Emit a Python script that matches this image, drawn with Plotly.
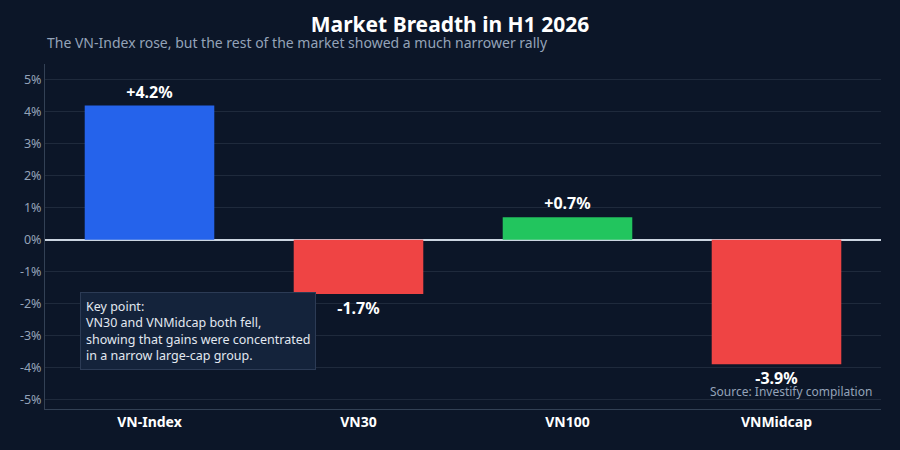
import plotly.graph_objects as go

categories = ["VN-Index", "VN30", "VN100", "VNMidcap"]
changes = [4.2, -1.7, 0.7, -3.9]
bar_colors = ["#2563eb", "#ef4444", "#22c55e", "#ef4444"]
labels = ["+4.2%", "-1.7%", "+0.7%", "-3.9%"]
tick_vals = [-5, -4, -3, -2, -1, 0, 1, 2, 3, 4, 5]
tick_text = ["-5%", "-4%", "-3%", "-2%", "-1%", "0%", "1%", "2%", "3%", "4%", "5%"]

BG = "#0c1628"
FONT = "Noto Sans"

fig = go.Figure()
fig.add_trace(go.Bar(
    x=categories, y=changes,
    marker=dict(color=bar_colors, line=dict(width=0)),
    text=labels, textposition="outside",
    textfont=dict(family=FONT, size=16, color="#ffffff", weight="bold"),
    cliponaxis=False,
    width=0.62,
))

fig.update_layout(
    width=900, height=450,
    paper_bgcolor=BG, plot_bgcolor=BG,
    margin=dict(l=45, r=19, t=64, b=41),
    showlegend=False,
    font=dict(family=FONT, color="#94a3b8"),
    title=dict(
        text="<b>Market Breadth in H1 2026</b>",
        x=0.5, xanchor="center", y=1 - 25 / 450, yanchor="middle",
        font=dict(family=FONT, size=21, color="#ffffff"),
    ),
    xaxis=dict(
        tickfont=dict(family=FONT, size=14, color="#ffffff", weight="bold"),
        showgrid=False, showline=True, linecolor="#334155", linewidth=1,
        ticks="", zeroline=False,
    ),
    yaxis=dict(
        range=[-5.3, 5.5],
        tickvals=tick_vals, ticktext=tick_text,
        tickfont=dict(family=FONT, size=12.5, color="#94a3b8"),
        showgrid=True, gridcolor="#1f2a3c", gridwidth=1,
        zeroline=True, zerolinecolor="#cbd5e1", zerolinewidth=1.5,
        showline=True, linecolor="#334155", linewidth=1,
        ticks="",
    ),
    annotations=[
        dict(
            text="The VN-Index rose, but the rest of the market showed a much narrower rally",
            xref="paper", yref="paper", x=0, y=1.0, xanchor="left", yanchor="middle",
            yshift=22, showarrow=False,
            font=dict(family=FONT, size=14, color="#94a3b8"),
        ),
        dict(
            text="Key point:<br>VN30 and VNMidcap both fell,<br>showing that gains were concentrated<br>in a narrow large-cap group.",
            xref="paper", yref="y", x=0.042, y=-1.65, xanchor="left", yanchor="top",
            align="left", showarrow=False,
            font=dict(family=FONT, size=12.5, color="#e2e8f0"),
            bgcolor="#14233b", bordercolor="#2c3b55", borderwidth=1, borderpad=5,
        ),
        dict(
            text="Source: Investify compilation",
            xref="paper", yref="y", x=0.992, y=-4.75, xanchor="right", yanchor="middle",
            showarrow=False,
            font=dict(family=FONT, size=12, color="#94a3b8"),
        ),
    ],
)

fig.write_html("out.html")
